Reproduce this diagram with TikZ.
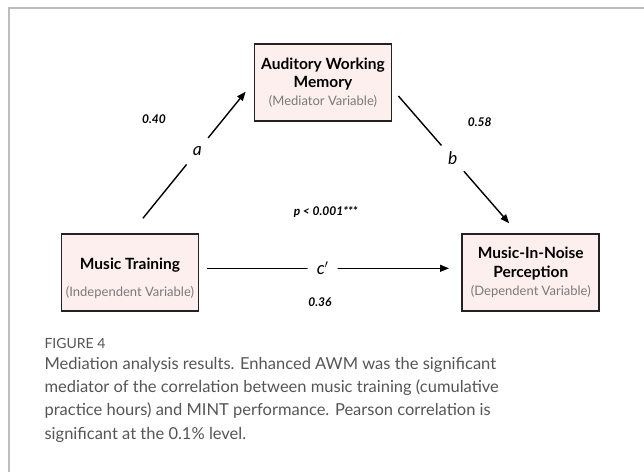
\documentclass[tikz,border=0pt]{standalone}
\usepackage{fontspec}
\setmainfont{Lato}
\usetikzlibrary{arrows.meta}
\definecolor{boxfill}{HTML}{FCEFEE}
\definecolor{boxline}{HTML}{222222}
\definecolor{subgray}{HTML}{7A7A7A}
\definecolor{capgray}{HTML}{555555}
\definecolor{framegray}{HTML}{BDBDBD}
\tikzset{
  varbox/.style={draw=boxline, line width=1.8pt, fill=boxfill,
    minimum width=137pt, minimum height=77pt, align=center, inner sep=0pt,
    font=\fontsize{15.5}{18.3}\selectfont},
  boxtext/.style={align=center, inner sep=0pt, font=\fontsize{15.5}{18.3}\selectfont},
  path/.style={line width=1.4pt, -{Triangle[length=9pt,width=7pt]}},
  gaplabel/.style={circle, fill=white, minimum size=34pt, inner sep=0pt,
    font=\fontsize{17.5}{17.5}\selectfont\itshape},
  coef/.style={font=\fontsize{12}{12}\selectfont\bfseries\itshape},
}
\newcommand{\vtitle}[1]{{\bfseries #1}}
\newcommand{\vsub}[1]{{\fontsize{13}{14}\selectfont\color{subgray}#1}}
\begin{document}
\begin{tikzpicture}[x=1pt,y=-1pt]
  \useasboundingbox (0,0) rectangle (644,472);
  % panel frame
  \draw[framegray, line width=1.6pt] (9,472) -- (9,8) -- (644,8);

  % variables
  \node[varbox] (awm) at (323,82.7)
    {\vtitle{Auditory Working}\\\vtitle{Memory}\\\vsub{(Mediator Variable)}};
  \node[varbox] (mt) at (130,272.4) {};
  \node[boxtext] (mt-text) at ([yshift=-6pt]mt.center)
    {\vtitle{Music Training}\\[9.5pt]\vsub{(Independent Variable)}};
  \node[varbox] (min) at (530.8,272.5)
    {\vtitle{Music-In-Noise}\\\vtitle{Perception}\\\vsub{(Dependent Variable)}};

  % path ends
  \coordinate (a0) at (142.9,218.3);
  \coordinate (a1) at (245.6,91.7);
  \coordinate (b0) at (398.4,96);
  \coordinate (b1) at (509.2,223.3);
  \coordinate (c0) at (207.4,268.3);
  \coordinate (c1) at (449,268.3);

  % paths
  \draw[path] (a0) -- node[gaplabel, pos=0.53] (la) {a} (a1);
  \draw[path] (b0) -- node[gaplabel, pos=0.49] (lb) {b} (b1);
  \draw[path] (c0) -- node[gaplabel, minimum size=30pt, pos=0.477] (lc) {c$'$} (c1);

  % coefficients
  \node[coef] (ca) at (154,119) {0.40};
  \node[coef] (cb) at (479.7,122.3) {0.58};
  \node[coef] (cc) at (320,301.7) {0.36};
  \node[coef] (pv) at (325.7,212.3) {p < 0.001***};

  % caption
  \node[anchor=west, font=\fontsize{14}{14}\selectfont, text=capgray] (fig) at (41,343.3) {FIGURE 4};
  \node[anchor=north west, align=left, text=capgray, inner sep=0pt,
        font=\fontsize{16.5}{23.3}\selectfont] (cap) at (44.4,357)
    {Mediation analysis results. Enhanced AWM was the significant\\
     mediator of the correlation between music training (cumulative\\
     practice hours) and MINT performance. Pearson correlation is\\
     significant at the 0.1\% level.};
\end{tikzpicture}
\end{document}
